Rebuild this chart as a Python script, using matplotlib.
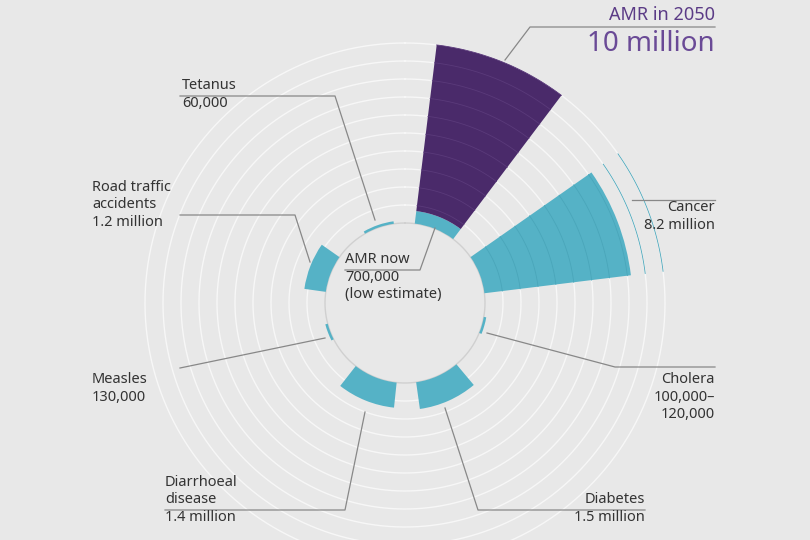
import matplotlib
matplotlib.use("Agg")
import matplotlib.pyplot as plt
import numpy as np

plt.rcParams['font.family'] = ['Noto Sans', 'DejaVu Sans']

causes = ["AMR now", "AMR in 2050", "Cancer", "Cholera", "Diabetes", "Diarrhoeal disease", "Measles", "Road traffic accidents", "Tetanus"]
deaths_m = [0.7, 9.3, 8.2, 0.11, 1.5, 1.4, 0.13, 1.2, 0.06]
start_deg = [7, 7, 55, 100, 140, 186, 243, 278, 330]
end_deg = [37, 37, 83, 112, 172, 218, 255, 305, 352]
bottoms_m = [0, 0.7, 0, 0, 0, 0, 0, 0, 0]
teal = "#55b2c6"; purple = "#4a2a6a"
colors = [teal, purple, teal, teal, teal, teal, teal, teal, teal]

W, H = 810, 540
cx, cy, R0, PX, RMAX = 405, 303, 80, 18, 270
bg = "#e8e8e8"
fig = plt.figure(figsize=(W/100, H/100), dpi=100, facecolor=bg)

ax = fig.add_axes([(cx-RMAX)/W, 1-(cy+RMAX)/H, 2*RMAX/W, 2*RMAX/H], projection='polar')
ax.set_facecolor('none')
ax.set_theta_zero_location('N'); ax.set_theta_direction(-1)
ax.set_ylim(0, RMAX)
ax.axis('off')
th = np.linspace(0, 2*np.pi, 400)
for k in range(11):
    ax.plot(th, np.full_like(th, R0 + PX*k), color="#f7f7f7" if k else "#d0d0d0", lw=1.0, zorder=1)
for v, s, e, b, c in zip(deaths_m, start_deg, end_deg, bottoms_m, colors):
    w = np.deg2rad(e - s)
    h = max(v*PX, 2.5)
    ax.bar(np.deg2rad(s) + w/2, h, width=w, bottom=R0 + b*PX, color=c, edgecolor='none', zorder=2)
for k in range(1, 11):
    ax.plot(np.deg2rad(np.linspace(7, 37, 50)), np.full(50, R0 + PX*k), color="#5a3a7a", lw=0.6, zorder=3)
    ax.plot(np.deg2rad(np.linspace(55, 83, 50)), np.full(50, R0 + PX*k), color="#4aa6ba", lw=0.6, zorder=3)

ov = fig.add_axes([0, 0, 1, 1], facecolor='none')
ov.set_xlim(0, W); ov.set_ylim(H, 0); ov.axis('off')
lc = "#888888"
lines = [
    [(180, 96), (335, 96), (375, 220)],
    [(180, 215), (295, 215), (310, 262)],
    [(180, 368), (325, 338)],
    [(165, 510), (345, 510), (365, 412)],
    [(645, 510), (478, 510), (445, 408)],
    [(715, 367), (615, 367), (487, 333)],
    [(715, 200), (632, 200)],
    [(715, 27), (530, 27), (505, 60)],
    [(345, 270), (420, 270), (435, 228)],
]
for pts in lines:
    xs, ys = zip(*pts)
    ov.plot(xs, ys, color=lc, lw=0.9)

tc = "#333333"
def lab(x, y, t1, t2, ha='left'):
    ov.text(x, y, t1, ha=ha, va='bottom', fontsize=10.5, fontweight='bold', color=tc)
    ov.text(x, y + 3, t2, ha=ha, va='top', fontsize=10.5, color=tc)
lab(182, 93, "Tetanus", "60,000")
lab(92, 212, "Road traffic\naccidents", "1.2 million")
lab(92, 387, "Measles", "130,000")
lab(165, 507, "Diarrhoeal\ndisease", "1.4 million")
lab(645, 507, "Diabetes", "1.5 million", ha='right')
lab(715, 387, "Cholera", "100,000–\n120,000", ha='right')
lab(715, 215, "Cancer", "8.2 million", ha='right')
lab(345, 267, "AMR now", "700,000\n(low estimate)")
ov.text(715, 24, "AMR in 2050", ha='right', va='bottom', fontsize=13, fontweight='bold', color="#5b3b86")
ov.text(715, 30, "10 million", ha='right', va='top', fontsize=20, color="#6a4a96")

fig.savefig("out.png", dpi=100, facecolor=bg)
